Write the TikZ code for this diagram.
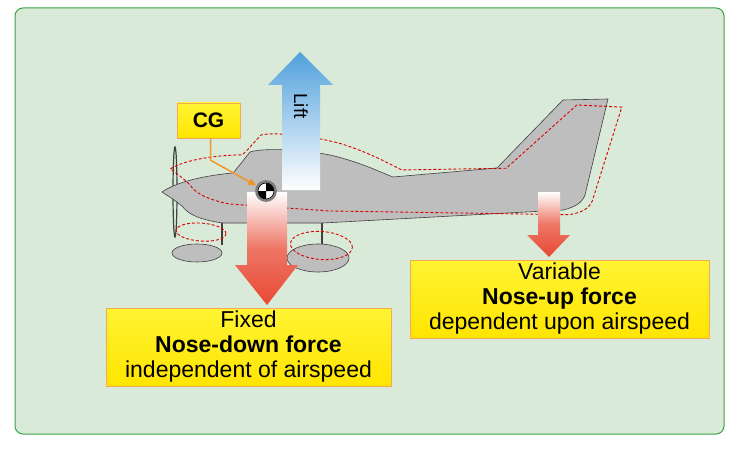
\documentclass[tikz,border=0pt]{standalone}
\usepackage{fontspec}
\setmainfont{Liberation Sans}
\usetikzlibrary{positioning,arrows.meta}
\definecolor{bggreen}{RGB}{218,234,216}
\definecolor{frame}{RGB}{60,160,70}
\definecolor{planegray}{RGB}{190,190,190}
\definecolor{forcered}{RGB}{232,72,50}
\definecolor{liftblue}{RGB}{80,160,220}
\definecolor{cgorange}{RGB}{240,150,40}
\definecolor{boxyellow}{RGB}{255,240,0}
\tikzset{
  note/.style={draw=cgorange!80, top color=boxyellow!80!white, bottom color=boxyellow!90!orange,
    minimum width=285pt, minimum height=78pt, align=center, inner sep=2pt,
    font=\fontsize{23}{25}\selectfont},
  redline/.style={red!85!black, densely dashed, line width=0.9pt},
  body/.style={fill=planegray, draw=black!75, line width=0.6pt},
  downforce/.style={top color=white, bottom color=forcered, middle color=forcered!75!white, draw=none}
}
\newcommand{\fuselage}{(162,192) .. controls (175,183) and (200,176) .. (233,173)
  .. controls (240,165) and (245,158) .. (250,152) .. controls (262,148) and (300,149) .. (330,155)
  .. controls (360,162) and (380,172) .. (393,177) -- (497,168) -- (563,100) -- (608,99)
  -- (585,195) .. controls (582,203) and (575,207) .. (563,210) -- (323,223) -- (223,223)
  .. controls (200,220) and (188,214) .. (183,207) .. controls (175,200) and (168,196) .. (162,192) -- cycle}
\newcommand{\fairings}{(197,253) ellipse (25pt and 9pt) (318,258) ellipse (31pt and 14pt)}
\begin{document}
\begin{tikzpicture}[x=1pt,y=-1pt]
\useasboundingbox (0,0) rectangle (740,452);
\draw[frame, fill=bggreen, rounded corners=8pt, line width=1pt] (15,8) rectangle (724,434);

% airplane
\draw[black!75, line width=1.2pt] (175,192) ellipse (2pt and 45pt);
\draw[black!75, line width=2pt] (222,223) -- (222,245) (322,223) -- (322,245);
\draw[body] \fairings;
\draw[body] \fuselage;

% pitched attitude
\begin{scope}[shift={(8,-8)}, rotate around={-4:(380,190)}]
\draw[redline] \fuselage;
\draw[redline] \fairings;
\end{scope}

% forces
\shade[top color=liftblue, bottom color=white, draw=none]
  (282,190) -- (282,85) -- (268,85) -- (300,52) -- (333,85) -- (320,85) -- (320,190) -- cycle;
\node[rotate=-90, font=\fontsize{19}{19}\selectfont] (lift) at (301,106) {Lift};
\shade[downforce]
  (247,192) -- (287,192) -- (287,265) -- (298,265) -- (267,305) -- (235,265) -- (247,265) -- cycle;
\shade[downforce]
  (538,192) -- (560,192) -- (560,235) -- (570,235) -- (549,257) -- (527,235) -- (538,235) -- cycle;

% center of gravity
\node[circle, fill=black!50, minimum size=22pt, inner sep=0] (cg) at (266,191) {};
\fill[white] (266,191) circle (8pt);
\fill[black] (266,191) -- (274,191) arc (0:90:8pt) -- cycle;
\fill[black] (266,191) -- (258,191) arc (180:270:8pt) -- cycle;
\draw[black, line width=0.6pt] (266,191) circle (8pt);

\node[note, minimum width=63pt, minimum height=35pt, font=\fontsize{21}{21}\selectfont\bfseries] (cgbox) at (208.5,120.5) {CG};
\draw[cgorange, line width=1.5pt, -{Triangle[length=8pt,width=7pt]}]
  (cgbox.south) ++(2,0) coordinate (cgfoot) -- ++(0,22) -- (cg);

\node[note] (fixed) at (248.5,347) {Fixed\\\textbf{Nose-down force}\\independent of airspeed};
\node[note, minimum width=299pt] (variable) at (559.5,299) {Variable\\\textbf{Nose-up force}\\dependent upon airspeed};
\end{tikzpicture}
\end{document}
